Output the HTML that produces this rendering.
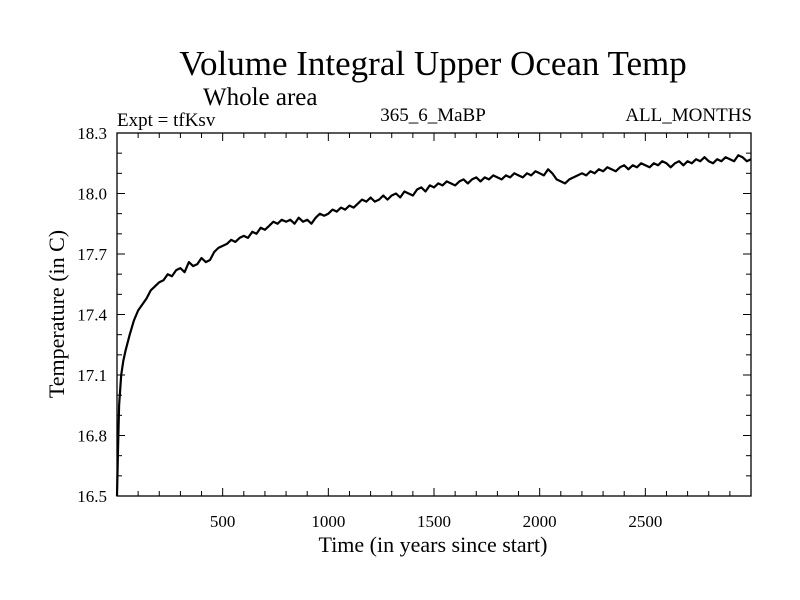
<!DOCTYPE html>
<html><head><meta charset="utf-8"><style>
body{margin:0;background:#fff}
svg{display:block;font-family:"Liberation Serif",serif}
</style></head><body>
<svg id="chart" width="800" height="600">
<text x="433" y="75" font-size="35" text-anchor="middle">Volume Integral Upper Ocean Temp</text>
<text x="203" y="105" font-size="25">Whole area</text>
<text x="117" y="126" font-size="19">Expt = tfKsv</text>
<text x="433" y="121" font-size="19" text-anchor="middle">365_6_MaBP</text>
<text x="752" y="121" font-size="19" text-anchor="end">ALL_MONTHS</text>
<text x="433" y="552" font-size="22" text-anchor="middle">Time (in years since start)</text>
<text transform="translate(64,314) rotate(-90)" font-size="22" text-anchor="middle">Temperature (in C)</text>
<g id="axes"></g>
<g id="series"></g>
</svg>
<script>
const years=[0,5,10,20,30,40,60,80,100,120,140,160,180,200,220,240,260,280,300,320,340,360,380,400,420,440,460,480,500,520,540,560,580,600,620,640,660,680,700,720,740,760,780,800,820,840,860,880,900,920,940,960,980,1000,1020,1040,1060,1080,1100,1120,1140,1160,1180,1200,1220,1240,1260,1280,1300,1320,1340,1360,1380,1400,1420,1440,1460,1480,1500,1520,1540,1560,1580,1600,1620,1640,1660,1680,1700,1720,1740,1760,1780,1800,1820,1840,1860,1880,1900,1920,1940,1960,1980,2000,2020,2040,2060,2080,2100,2120,2140,2160,2180,2200,2220,2240,2260,2280,2300,2320,2340,2360,2380,2400,2420,2440,2460,2480,2500,2520,2540,2560,2580,2600,2620,2640,2660,2680,2700,2720,2740,2760,2780,2800,2820,2840,2860,2880,2900,2920,2940,2960,2980,3000];
const temps=[16.50,16.75,16.95,17.10,17.17,17.22,17.30,17.37,17.42,17.45,17.48,17.52,17.54,17.56,17.57,17.60,17.59,17.62,17.63,17.61,17.66,17.64,17.65,17.68,17.66,17.67,17.71,17.73,17.74,17.75,17.77,17.76,17.78,17.79,17.78,17.81,17.80,17.83,17.82,17.84,17.86,17.85,17.87,17.86,17.87,17.85,17.88,17.86,17.87,17.85,17.88,17.90,17.89,17.90,17.92,17.91,17.93,17.92,17.94,17.93,17.95,17.97,17.96,17.98,17.96,17.97,17.99,17.97,17.99,18.00,17.98,18.01,18.00,17.99,18.02,18.03,18.01,18.04,18.03,18.05,18.04,18.06,18.05,18.04,18.06,18.07,18.05,18.07,18.08,18.06,18.08,18.07,18.09,18.08,18.07,18.09,18.08,18.10,18.09,18.08,18.10,18.09,18.11,18.10,18.09,18.12,18.10,18.07,18.06,18.05,18.07,18.08,18.09,18.10,18.09,18.11,18.10,18.12,18.11,18.13,18.12,18.11,18.13,18.14,18.12,18.14,18.13,18.15,18.14,18.13,18.15,18.14,18.16,18.15,18.13,18.15,18.16,18.14,18.16,18.15,18.17,18.16,18.18,18.16,18.15,18.17,18.16,18.18,18.17,18.16,18.19,18.18,18.16,18.17];
const xTicks=[500,1000,1500,2000,2500];
const yTicks=[16.5,16.8,17.1,17.4,17.7,18.0,18.3];
const yLabels=["16.5","16.8","17.1","17.4","17.7","18.0","18.3"];
const X0=117,X1=751,Y0=496,Y1=133;
const xs=v=>X0+(v-0)/3000*(X1-X0);
const ys=v=>Y0-(v-16.5)/1.8*(Y0-Y1);
const NS="http://www.w3.org/2000/svg";
const axes=document.getElementById('axes');
function mk(tag,attrs,parent){const e=document.createElementNS(NS,tag);for(const k in attrs)e.setAttribute(k,attrs[k]);parent.appendChild(e);return e;}
const frame=mk('rect',{x:X0,y:Y1,width:X1-X0,height:Y0-Y1,fill:'none',stroke:'#000','stroke-width':1.3},axes);


for(let v=100;v<3000;v+=100){
  const major=v%500===0, L=major?8:5, x=xs(v);
  const t1=mk('line',{x1:x,x2:x,y1:Y0,y2:Y0-L,stroke:'#000'},axes);
  
  
  const t2=mk('line',{x1:x,x2:x,y1:Y1,y2:Y1+L,stroke:'#000'},axes);
  
  
}
for(let i=1;i<18;i++){
  const v=16.5+i*0.1, major=i%3===0, L=major?8:5, y=ys(v);
  const t1=mk('line',{x1:X0,x2:X0+L,y1:y,y2:y,stroke:'#000'},axes);
  
  
  const t2=mk('line',{x1:X1,x2:X1-L,y1:y,y2:y,stroke:'#000'},axes);
  
  
}
xTicks.forEach(v=>{
  const t=mk('text',{x:xs(v),y:527,'font-size':17,'text-anchor':'middle'},axes);
  t.textContent=v;
  
  
});
yTicks.forEach((v,i)=>{
  const t=mk('text',{x:107,y:ys(v)+6,'font-size':17,'text-anchor':'end'},axes);
  t.textContent=yLabels[i];
  
  
});
const d=years.map((y,i)=>(i?'L':'M')+xs(y).toFixed(1)+','+ys(temps[i]).toFixed(1)).join('');
const p=mk('path',{d:d,fill:'none',stroke:'#000','stroke-width':2.2,'stroke-linejoin':'round'},document.getElementById('series'));


</script>
</body></html>
